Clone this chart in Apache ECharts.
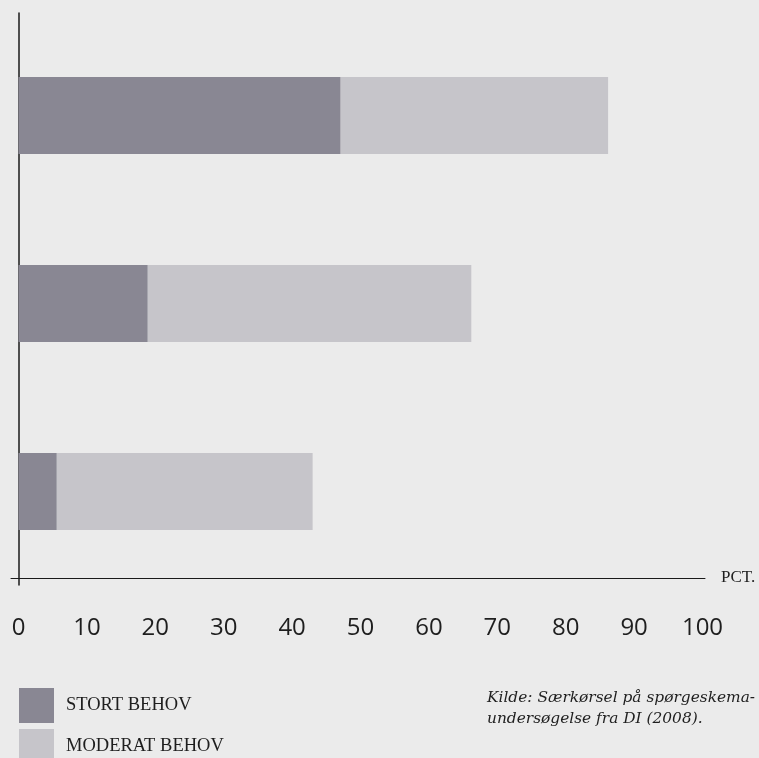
<!DOCTYPE html>
<html><head><meta charset="utf-8">
<script src="https://cdn.jsdelivr.net/npm/echarts@6/dist/echarts.min.js"></script>
<style>html,body{margin:0;padding:0;background:#ebebeb;}#c{width:759px;height:758px;}</style>
</head><body><div id="c"></div>
<script>
const categories = ['Gruppe 3', 'Gruppe 2', 'Gruppe 1'];
const stortBehov = [5.6, 18.9, 47.1];
const moderatBehov = [37.4, 47.3, 39.1];
const seriesNames = ['STORT BEHOV', 'MODERAT BEHOV'];
const sourceLines = ['Kilde: Særkørsel på spørgeskema-', 'undersøgelse fra DI (2008).'];

function legendFor(name, top, padTop) {
  return {
    orient: 'vertical', left: 19, top: top, itemWidth: 35, itemHeight: 35, padding: 0,
    icon: 'rect', selectedMode: false, data: [name],
    textStyle: {color: '#1e1e1e', fontFamily: 'Liberation Serif', fontSize: 18.5, padding: [padTop, 0, 0, 7]}
  };
}

const chart = echarts.init(document.getElementById('c'), null, {renderer: 'canvas'});
chart.setOption({
  backgroundColor: '#ebebeb',
  animation: false,
  grid: [
    {left: 18.5, right: 56.5, top: 21.5, height: 564},
    {left: 11, right: 54, top: 13, bottom: 173}
  ],
  xAxis: [
    {gridIndex: 0, type: 'value', min: 0, max: 100, interval: 10,
     axisLine: {show: false}, axisTick: {show: false}, splitLine: {show: false},
     axisLabel: {show: true, margin: 31, color: '#1e1e1e', fontFamily: 'Open Sans', fontSize: 24}},
    {gridIndex: 1, type: 'value', min: 0, max: 100, offset: -7,
     axisLine: {show: true, lineStyle: {color: '#1a1a1a', width: 1}},
     axisTick: {show: false}, axisLabel: {show: false}, splitLine: {show: false},
     name: 'PCT.', nameLocation: 'end', nameGap: 16,
     nameTextStyle: {color: '#1e1e1e', fontFamily: 'Liberation Serif', fontSize: 17}}
  ],
  yAxis: [
    {gridIndex: 0, type: 'category', data: categories,
     axisLine: {show: false}, axisTick: {show: false}, axisLabel: {show: false}},
    {gridIndex: 1, type: 'value', min: 0, max: 1, offset: -7.5,
     axisLine: {show: true, lineStyle: {color: '#1a1a1a', width: 1.5}},
     axisTick: {show: false}, axisLabel: {show: false}, splitLine: {show: false}}
  ],
  legend: [
    legendFor(seriesNames[0], 688, 4),
    legendFor(seriesNames[1], 729, 8)
  ],
  series: [
    {name: seriesNames[0], type: 'bar', stack: 'total', xAxisIndex: 0, yAxisIndex: 0,
     barWidth: 77, data: stortBehov, itemStyle: {color: '#898793'}},
    {name: seriesNames[1], type: 'bar', stack: 'total', xAxisIndex: 0, yAxisIndex: 0,
     barWidth: 77, data: moderatBehov, itemStyle: {color: '#c6c5ca'}}
  ],
  graphic: [
    {type: 'text', left: 487, top: 687,
     style: {text: sourceLines.join('\n'), fill: '#1e1e1e', font: 'italic 15.4px "DejaVu Serif"', lineHeight: 21}}
  ]
});
</script></body></html>
